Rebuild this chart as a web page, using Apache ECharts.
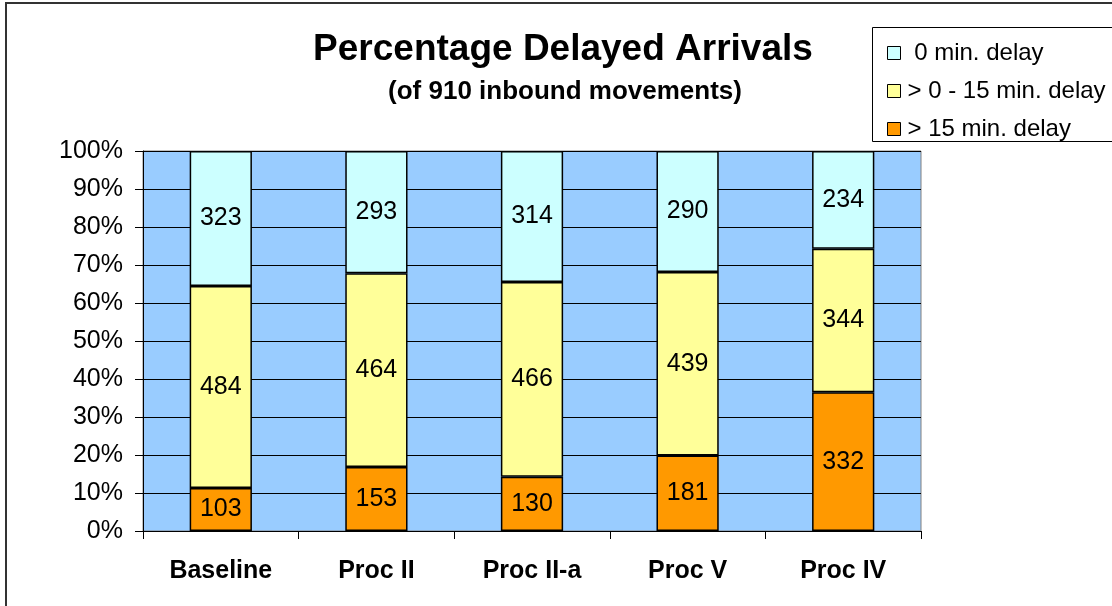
<!DOCTYPE html>
<html>
<head>
<meta charset="utf-8">
<script src="https://cdn.jsdelivr.net/npm/echarts@6/dist/echarts.min.js"></script>
<style>
    html, body { margin: 0; padding: 0; background: #fff; }
    #chart { width: 1112px; height: 606px; }
</style>
</head>
<body>
<div id="chart"></div>
<script>
    // counts per category (910 inbound movements each)
    const categories = ['Baseline', 'Proc II', 'Proc II-a', 'Proc V', 'Proc IV'];
    const noDelay = [323, 293, 314, 290, 234];
    const shortDelay = [484, 464, 466, 439, 344];
    const longDelay = [103, 153, 130, 181, 332];
    const yTicks = [0, 10, 20, 30, 40, 50, 60, 70, 80, 90, 100];

    const totals = categories.map((c, i) => noDelay[i] + shortDelay[i] + longDelay[i]);
    const toPct = arr => arr.map((v, i) => v / totals[i] * 100);

    const font = '"Liberation Sans", Arial, sans-serif';

    function makeSeries(name, counts, color) {
        return {
            name: name,
            type: 'bar',
            stack: 'all',
            barWidth: '40%',
            data: toPct(counts),
            itemStyle: {
                color: color,
                borderColor: '#000',
                borderWidth: 1.5
            },
            label: {
                show: true,
                position: 'inside',
                color: '#000',
                fontSize: 25,
                fontFamily: font,
                formatter: p => counts[p.dataIndex]
            },
            emphasis: { disabled: true }
        };
    }

    let chart = echarts.init(document.getElementById('chart'));
    let option = {
        animation: false,
        backgroundColor: '#fff',
        graphic: [
            {   // outer chart frame
                type: 'rect',
                z: 0,
                shape: { x: 6, y: 3, width: 1200, height: 700 },
                style: { fill: 'none', stroke: '#333', lineWidth: 2 }
            },
            {   // legend box
                type: 'rect',
                z: 0,
                shape: { x: 872.5, y: 27.5, width: 300, height: 114 },
                style: { fill: '#fff', stroke: '#000', lineWidth: 1 }
            }
        ],
        title: [
            {
                text: 'Percentage Delayed Arrivals',
                left: 558,
                top: 26,
                textAlign: 'center',
                textStyle: { fontSize: 37, fontWeight: 'bold', color: '#000', fontFamily: font }
            },
            {
                text: '(of 910 inbound movements)',
                left: 560,
                top: 74,
                textAlign: 'center',
                textStyle: { fontSize: 26, fontWeight: 'bold', color: '#000', fontFamily: font }
            }
        ],
        legend: {
            orient: 'vertical',
            left: 882,
            top: 36,
            itemWidth: 13,
            itemHeight: 13,
            itemGap: 14,
            icon: 'rect',
            itemStyle: { borderColor: '#000', borderWidth: 1 },
            textStyle: { fontSize: 24, color: '#000', fontFamily: font, padding: [0, 0, 0, 2] },
            selectedMode: false,
            data: [' 0 min. delay', '> 0 - 15 min. delay', '> 15 min. delay']
        },
        grid: {
            left: 143,
            top: 151,
            width: 778,
            height: 380,
            show: true,
            backgroundColor: '#99CCFF',
            borderColor: '#808080',
            borderWidth: 1
        },
        xAxis: {
            type: 'category',
            data: categories,
            axisLine: { show: true, lineStyle: { color: '#000', width: 1 } },
            axisTick: { show: true, inside: false, length: 8, alignWithLabel: false, lineStyle: { color: '#000' } },
            axisLabel: {
                margin: 28,
                fontSize: 25,
                fontWeight: 'bold',
                color: '#000',
                fontFamily: font,
                interval: 0
            }
        },
        yAxis: {
            type: 'value',
            min: yTicks[0],
            max: yTicks[yTicks.length - 1],
            interval: 10,
            axisLine: { show: true, lineStyle: { color: '#000', width: 1 } },
            axisTick: { show: true, inside: false, length: 8, lineStyle: { color: '#000' } },
            splitLine: { show: true, lineStyle: { color: '#000', width: 1 } },
            axisLabel: {
                margin: 20,
                fontSize: 25,
                color: '#000',
                fontFamily: font,
                formatter: '{value}%'
            }
        },
        series: [
            makeSeries('> 15 min. delay', longDelay, '#FF9900'),
            makeSeries('> 0 - 15 min. delay', shortDelay, '#FFFF99'),
            makeSeries(' 0 min. delay', noDelay, '#CCFFFF')
        ]
    };
    chart.setOption(option);
    window.addEventListener('resize', function () {
        chart.resize();
    });
</script>
</body>
</html>
